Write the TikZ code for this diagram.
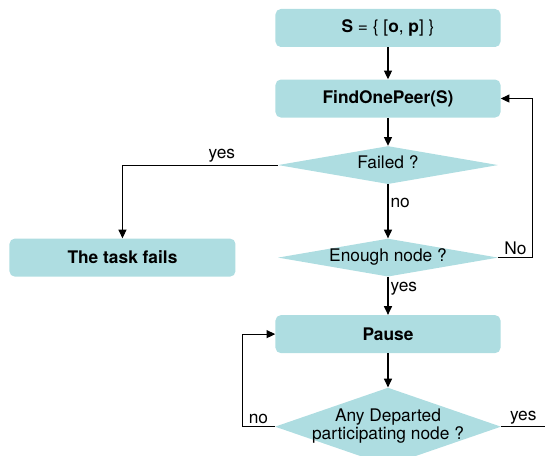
\documentclass[tikz,border=0pt]{standalone}
\usepackage{fontspec}
\setmainfont{TeX Gyre Heros}
\usepackage{xcolor}
\usetikzlibrary{arrows.meta,positioning,shapes.geometric}

\definecolor{boxcol}{RGB}{174,221,225}
% text of a diamond, kept narrow so the diamond keeps its size
\newcommand{\ctr}[1]{\makebox[0pt]{\begin{tabular}{@{}c@{}}#1\end{tabular}}}

\begin{document}
\begin{tikzpicture}[
  font=\fontsize{13}{14}\selectfont,
  box/.style={
    fill=boxcol,
    rounded corners=4pt,
    align=center,
    minimum width=168.75pt,
    minimum height=28.5pt,
    font=\fontsize{13}{14}\selectfont\bfseries
  },
  choice/.style={
    diamond,
    fill=boxcol,
    inner sep=1pt,
    minimum width=165pt,
    minimum height=28.5pt,
    shape aspect=5.8
  },
  arrow/.style={-{Triangle[length=6.5pt,width=6pt]}, line width=0.8pt},
  line/.style={line width=0.8pt},
  edgelabel/.style={inner sep=1.5pt}
]
\clip (-291pt,21pt) rectangle (118.5pt,-321pt);

\node[box] (set) at (0,0) {S {\mdseries = \{ [}o{\mdseries,} p{\mdseries ] \}}};
\node[box, below=24pt of set] (find) {FindOnePeer(S)};
\node[choice, below=21pt of find] (failed) {\ctr{Failed ?}};
\node[choice, below=40.5pt of failed] (enough) {\ctr{Enough node ?}};
\node[box, left=31.5pt of enough, minimum width=169.5pt] (fails) {The task fails};
\node[box, below=28.5pt of enough] (pause) {Pause};
\node[choice, below=25.5pt of pause, minimum width=169.5pt, minimum height=58.5pt, shape aspect=2.9] (depart)
  {\ctr{Any Departed\\participating node ?}};
\coordinate (out) at ([xshift=33pt]depart.east);

\draw[arrow] (set) -- (find);
\draw[arrow] (find) -- (failed);
\draw[arrow] (failed) -- node[right, edgelabel, pos=0.35]{no} (enough);
\draw[arrow] (failed.west) -| node[above, edgelabel, pos=0.18]{yes} (fails.north);
\draw[arrow] (enough.east) -| node[above, edgelabel, pos=0.25]{No} ([xshift=24pt]find.east) -- (find.east);
\draw[arrow] (enough) -- node[right, edgelabel, pos=0.3]{yes} (pause);
\draw[arrow] (pause) -- (depart);
\draw[arrow] (depart.west) -| node[above, edgelabel, pos=0.25]{no} ([xshift=-24.75pt]pause.west) -- (pause.west);
\draw[line] (depart.east) -- node[above, edgelabel]{yes} (out);
\end{tikzpicture}
\end{document}
